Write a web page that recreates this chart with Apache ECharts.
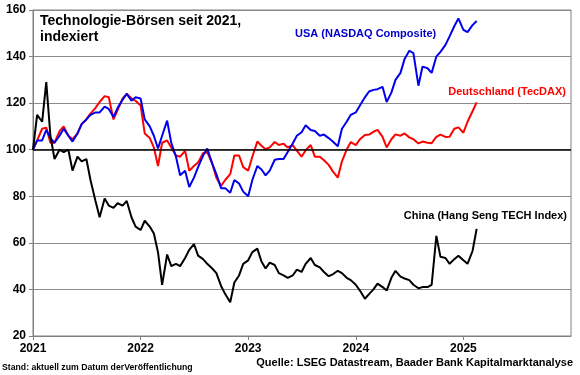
<!DOCTYPE html>
<html>
<head>
<meta charset="utf-8">
<script src="https://cdn.jsdelivr.net/npm/echarts@6/dist/echarts.min.js"></script>
<style>
  html, body { margin: 0; padding: 0; background: #fff; }
  #chart { width: 580px; height: 375px; }
</style>
</head>
<body>
<div id="chart"></div>
<script>
// semi-monthly dates, 1st and 15th of each month, Jan 2021 .. Feb 2025
const dates = [];
for (let y = 2021; y <= 2025; y++) {
  for (let m = 1; m <= 12; m++) {
    if (y === 2025 && m > 2) break;
    const mm = String(m).padStart(2, '0');
    dates.push(`${y}-${mm}-01`, `${y}-${mm}-15`);
  }
}

const nasdaq = [
  100, 104, 104, 108.5, 105, 103, 106, 109, 106, 103.5, 107, 111, 113, 115, 116, 116, 118.5, 117.5, 114, 118, 121.5, 124, 121, 122.5,
  122, 113, 110, 106, 100.5, 106, 112.5, 103, 97, 89, 91, 84, 88, 92.5, 97.5, 100.5, 94, 89.5, 83.5, 83.5, 81.5, 87, 85.5, 82,
  80, 87, 93, 91.5, 89, 91, 95.7, 96, 96, 99, 102.7, 106, 107.5, 110.5, 108.5, 108, 106, 106.5, 105, 103.5, 101.5, 109, 112, 115,
  116, 119, 122.5, 125, 125.7, 126, 127, 120.5, 124.5, 130, 133, 139, 142.5, 141.5, 127.5, 135.7, 135, 133, 140, 142, 145, 148.7, 153, 156.4,
  151.5, 150.5, 153.5, 155.3
];

const tecdax = [
  100, 104, 109, 109.5, 103, 103, 108, 110, 106, 104.5, 107, 111, 113, 115.5, 118, 120.5, 123, 122.5, 113, 117, 122, 124, 122, 121,
  119, 107, 105, 101, 93, 103, 104, 101, 97.5, 97, 99.5, 91, 93, 94.5, 98.5, 99, 94, 88, 84.5, 87, 89.5, 97.5, 97.5, 92.5,
  91, 97, 103.5, 101.7, 100.2, 101, 103.3, 102, 102.6, 101, 102, 99.6, 97, 99.8, 102, 97, 97, 95.5, 93.5, 90.7, 88, 95, 100, 103.3,
  102, 104.5, 106.3, 106.5, 107.7, 108.5, 105.5, 101, 104.5, 106.6, 106, 107, 105.3, 104.5, 102.7, 103.5, 103, 102.8, 105.5, 106.5, 105.5, 105.6, 109, 109.6,
  107.3, 112, 116.5, 120.3
];

const hangSengTech = [
  100, 115, 112, 129, 106, 96, 100, 99, 100, 91, 97, 95, 96, 87, 78, 71, 79, 76, 75, 77, 76, 78, 71, 67,
  65.5, 69.5, 67, 64, 56, 42, 55, 50, 51, 50, 53.5, 57, 59.5, 54.5, 53, 51, 49, 47, 41.5, 38, 34.5, 43, 46, 51,
  52.5, 56, 57.5, 52, 49, 51.5, 50.5, 47, 46, 45, 46, 48.5, 47.5, 51, 53.5, 50.5, 49.5, 47.5, 45.7, 46.5, 48, 47, 45, 44,
  42, 39.5, 36, 38, 40, 42.5, 41, 39.5, 45, 48, 45.5, 44.7, 44, 42, 40.5, 41, 41, 42, 63, 54, 53.5, 51, 53, 54.5,
  52.5, 51, 56.5, 66
];

const yTicks = [20, 40, 60, 80, 100, 120, 140, 160];
const xYears = [2021, 2022, 2023, 2024, 2025, 2026];

const FONT = '"Liberation Sans", Arial, sans-serif';

function toYear(d) {
  const [y, m, day] = d.split('-').map(Number);
  const start = Date.UTC(y, 0, 1);
  const end = Date.UTC(y + 1, 0, 1);
  return y + (Date.UTC(y, m - 1, day) - start) / (end - start);
}

const pairs = (vals) => vals.map((v, i) => [toYear(dates[i]), v]);

const chart = echarts.init(document.getElementById('chart'));

chart.setOption({
  backgroundColor: '#fff',
  animation: false,
  title: {
    text: 'Technologie-Börsen seit 2021,\nindexiert',
    left: 40,
    top: 13,
    padding: 0,
    textStyle: { fontFamily: FONT, fontSize: 14, fontWeight: 'bold', color: '#000', lineHeight: 16 },
  },
  grid: {
    left: 33, right: 9, top: 10, bottom: 39,
    show: true, borderColor: '#808080', borderWidth: 1,
  },
  xAxis: {
    type: 'value',
    min: xYears[0],
    max: xYears[xYears.length - 1],
    interval: 1,
    axisLine: { show: true, lineStyle: { color: '#808080' } },
    axisTick: { show: true, length: 4, lineStyle: { color: '#808080' } },
    axisLabel: {
      showMaxLabel: false,
      margin: 7,
      color: '#000',
      fontFamily: FONT,
      fontSize: 12,
      fontWeight: 'bold',
      formatter: (v) => String(v),
    },
    splitLine: { show: false },
  },
  yAxis: {
    type: 'value',
    min: yTicks[0],
    max: yTicks[yTicks.length - 1],
    interval: 20,
    axisLine: { show: true, lineStyle: { color: '#808080' } },
    axisTick: { show: true, length: 4, lineStyle: { color: '#808080' } },
    axisLabel: { margin: 7, color: '#000', fontFamily: FONT, fontSize: 12, fontWeight: 'bold' },
    splitLine: { show: true, lineStyle: { color: '#8c8c8c', width: 1 } },
  },
  series: [
    {
      name: 'Deutschland (TecDAX)',
      type: 'line',
      data: pairs(tecdax),
      showSymbol: false,
      lineStyle: { color: '#ff0000', width: 2 },
    },
    {
      name: 'USA (NASDAQ Composite)',
      type: 'line',
      data: pairs(nasdaq),
      showSymbol: false,
      lineStyle: { color: '#0000ee', width: 2 },
    },
    {
      name: 'China (Hang Seng TECH Index)',
      type: 'line',
      data: pairs(hangSengTech),
      showSymbol: false,
      lineStyle: { color: '#000', width: 2 },
      markLine: {
        silent: true,
        symbol: ['none', 'none'],
        label: { show: false },
        lineStyle: { color: '#000', width: 1.5, type: 'solid' },
        data: [{ yAxis: 100 }],
      },
    },
  ],
  graphic: [
    { type: 'text', x: 295, y: 34, style: { text: 'USA (NASDAQ Composite)', fill: '#0000cc', font: `bold 11px ${FONT}`, verticalAlign: 'middle' } },
    { type: 'text', x: 566, y: 92, style: { text: 'Deutschland (TecDAX)', fill: '#ff0000', font: `bold 11px ${FONT}`, align: 'right', verticalAlign: 'middle' } },
    { type: 'text', x: 567, y: 216, style: { text: 'China (Hang Seng TECH Index)', fill: '#000', font: `bold 11px ${FONT}`, align: 'right', verticalAlign: 'middle' } },
    { type: 'text', x: 2, y: 368, style: { text: 'Stand: aktuell zum Datum derVeröffentlichung', fill: '#000', font: `bold 8.7px ${FONT}`, verticalAlign: 'middle' } },
    { type: 'text', x: 573, y: 363, style: { text: 'Quelle: LSEG Datastream, Baader Bank Kapitalmarktanalyse', fill: '#000', font: `bold 11px ${FONT}`, align: 'right', verticalAlign: 'middle' } },
  ],
});
</script>
</body>
</html>
